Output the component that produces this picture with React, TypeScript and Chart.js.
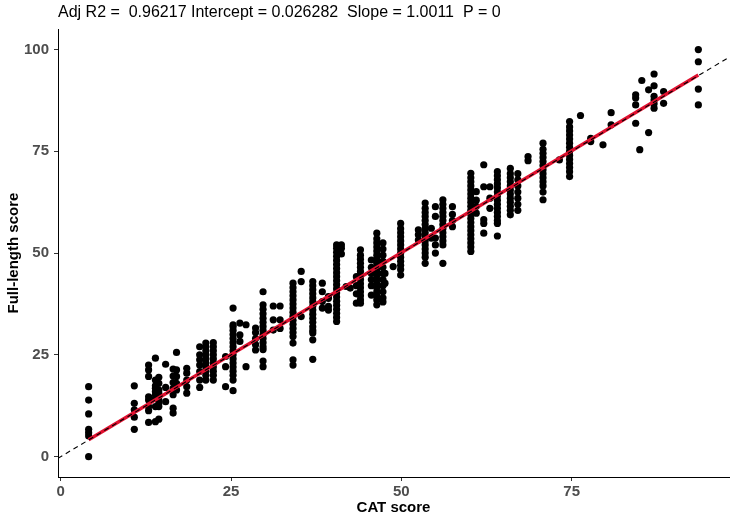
import React, { useEffect, useRef } from "react";
import { Chart, registerables } from "chart.js";

Chart.register(...registerables);

const titleText = "Adj R2 =  0.96217 Intercept = 0.026282  Slope = 1.0011  P = 0";
const intercept = 0.026282;
const slope = 1.0011;
const xTicks = [0, 25, 50, 75];
const yTicks = [0, 25, 50, 75, 100];

// CAT score columns and the full-length scores observed at each
const catScores = [
  4.1, 10.8, 12.9, 13.9, 14.4, 15.4, 16.5, 17.0, 18.5, 20.4, 21.3, 22.4, 24.2, 25.3, 26.3, 27.2,
  28.6, 29.7, 31.2, 32.2, 34.1, 35.3, 37.0, 38.4, 39.3, 40.5, 41.2, 41.9, 42.5, 43.4, 44.0, 45.6,
  46.4, 47.3, 47.6, 48.8, 49.9, 52.5, 53.5, 54.4, 55.0, 56.1, 57.5, 60.2, 61.0, 62.1, 63.0, 64.1,
  66.0, 67.1, 68.6, 70.8, 73.2, 74.7, 76.3, 77.8, 79.6, 80.8, 84.4, 85.0, 85.3, 86.3, 87.1, 88.5, 93.6,
];

const fullLengthScores: number[][] = [
  [17.2, 13.9, 10.5, 6.7, 5.9, 5.1, 0],
  [17.4, 13.1, 11.5, 9.7, 6.7],
  [22.5, 21.3, 19.7, 14.7, 13.9, 12.3, 11.3, 8.4],
  [24.2, 18.8, 17.4, 16.8, 16.0, 15.2, 14.3, 12.3, 8.6],
  [19.5, 18.0, 16.4, 15.6, 14.8, 13.9, 13.1, 12.3, 9.2],
  [22.7, 17.0, 13.5],
  [21.5, 19.8, 18.2, 16.8, 15.2, 11.9, 10.7],
  [25.6, 21.3, 19.7, 18.0, 16.4],
  [21.7, 20.5, 18.8, 17.2, 15.6],
  [27.0, 25.0, 23.8, 22.5, 20.9, 18.8, 17.0],
  [27.9, 27.0, 26.0, 25.0, 24.0, 23.0, 22.0, 21.0, 20.0, 18.8],
  [28.0, 27.0, 26.0, 25.0, 24.0, 23.0, 22.0, 21.0, 20.0, 18.8],
  [24.6, 22.1, 17.2],
  [36.5, 32.4, 31.9, 31.0, 30.0, 29.0, 28.0, 27.0, 26.0, 25.0, 24.0, 23.0, 22.0, 21.0, 20.0, 18.8, 16.2],
  [32.8, 29.9, 28.3],
  [32.4, 22.1],
  [31.6, 30.5, 29.0, 27.5, 26.2],
  [40.5, 37.3, 36.2, 35.1, 34.0, 33.0, 32.0, 31.0, 30.0, 29.0, 28.0, 27.0, 26.3, 23.5, 22.1],
  [37.0, 33.6, 31.1],
  [37.0, 33.6, 31.5],
  [42.6, 41.5, 40.5, 39.5, 38.5, 37.5, 36.5, 35.5, 34.5, 33.5, 32.5, 31.5, 30.5, 29.5, 27.9, 23.8, 22.5],
  [45.5, 43.0, 34.4],
  [43.0, 42.0, 41.0, 40.0, 39.0, 38.0, 37.0, 36.0, 35.0, 34.0, 33.0, 31.9, 31.0, 30.4, 28.7, 23.9],
  [42.6, 40.5, 38.1, 36.5],
  [39.3, 38.9, 36.9, 36.0],
  [52.0, 51.2, 50.2, 49.2, 48.2, 47.2, 46.2, 45.2, 44.2, 43.2, 42.2, 41.2, 40.2, 39.2, 38.2, 37.2, 36.2, 35.2, 34.2, 33.2],
  [52.0, 51.2, 49.8],
  [41.8],
  [41.4],
  [44.2, 42.0, 40.0, 37.7],
  [50.8, 49.5, 48.5, 47.5, 46.5, 45.5, 44.5, 43.5, 42.5, 41.5, 40.5, 39.5, 38.5, 37.7],
  [48.3, 46.5, 45.0, 43.5, 42.0, 39.7],
  [54.9, 53.5, 52.5, 51.5, 50.5, 49.5, 48.5, 47.5, 46.5, 45.5, 44.5, 43.5, 42.5, 41.5, 40.5, 39.5, 38.5, 37.3],
  [52.5, 51.0, 49.5, 48.0, 46.5, 45.0, 43.5, 42.0, 40.5, 39.0, 38.0],
  [45.0, 42.6],
  [46.7],
  [57.3, 56.0, 55.0, 54.0, 53.0, 52.0, 51.0, 50.0, 49.0, 48.0, 47.0, 46.0, 44.6],
  [55.7, 54.5, 53.2],
  [62.3, 61.0, 60.0, 59.0, 58.0, 57.0, 56.0, 55.0, 54.0, 53.0, 52.0, 51.0, 50.0, 49.0, 47.5],
  [56.1, 53.7],
  [61.4, 59.0, 53.7, 52.0, 50.0],
  [63.1, 62.0, 61.0, 60.0, 59.0, 58.0, 57.0, 56.0, 55.0, 54.0, 53.0, 52.0, 47.5],
  [61.4, 59.5, 58.0, 56.5],
  [69.6, 68.5, 67.5, 66.5, 65.5, 64.5, 63.5, 62.5, 61.5, 60.5, 59.5, 58.5, 57.5, 56.5, 55.5, 54.5, 53.5, 52.5, 51.5, 50.4],
  [65.1, 63.0, 61.5, 59.8],
  [71.7, 66.3, 58.2, 57.3, 54.9],
  [66.3, 63.5, 61.0],
  [70.0, 69.0, 68.0, 67.0, 66.0, 65.0, 64.0, 63.0, 62.0, 61.0, 60.0, 59.0, 58.0, 57.3, 54.2],
  [70.8, 69.5, 68.5, 67.5, 66.5, 65.5, 64.5, 63.5, 62.5, 61.5, 60.5, 59.4],
  [69.5, 68.0, 66.5, 65.0, 63.5, 62.0, 60.5],
  [73.7, 72.7],
  [77.0, 75.5, 74.5, 73.5, 72.5, 71.5, 70.5, 69.5, 68.5, 67.5, 66.5, 65.0, 63.1],
  [72.9],
  [82.3, 81.0, 80.0, 79.0, 78.0, 77.0, 76.0, 75.0, 74.0, 73.0, 72.0, 71.0, 70.0, 68.8],
  [83.8],
  [78.2, 77.4],
  [76.6],
  [84.5, 81.5],
  [88.9, 88.1, 86.4, 81.9],
  [75.4],
  [92.4],
  [90.1, 79.6],
  [94.0, 91.1, 88.5, 87.6, 86.7, 85.6],
  [89.7, 86.8],
  [100.0, 97.0, 90.3, 86.4],
];

const xMin = -0.4;
const xMax = 98.1;
const yMin = -5;
const yMax = 105;

export default function App() {
  const canvasRef = useRef<HTMLCanvasElement | null>(null);

  useEffect(() => {
    const canvas = canvasRef.current;
    if (!canvas) return;
    const points: { x: number; y: number }[] = [];
    catScores.forEach((cx, i) => {
      fullLengthScores[i].forEach((fy) => points.push({ x: cx, y: fy }));
    });
    const fitX0 = catScores[0];
    const fitX1 = catScores[catScores.length - 1];
    const tickFont = {
      family: "'Liberation Sans Narrow', 'Arial Narrow', 'Liberation Sans', Arial, sans-serif",
      size: 15,
      weight: "bold" as const,
    };
    const axisTitleFont = {
      family: "'Liberation Sans', Arial, sans-serif",
      size: 15,
      weight: "bold" as const,
    };
    const chart = new Chart(canvas, {
      type: "scatter",
      data: {
        datasets: [
          {
            type: "line",
            data: [
              { x: xMin, y: xMin },
              { x: xMax, y: xMax },
            ],
            borderColor: "#000000",
            borderWidth: 1.1,
            borderDash: [5, 4],
            pointRadius: 0,
            fill: false,
            order: 0,
          },
          {
            type: "line",
            data: [
              { x: fitX0, y: intercept + slope * fitX0 },
              { x: fitX1, y: intercept + slope * fitX1 },
            ],
            borderColor: "#E0102F",
            borderWidth: 3.4,
            pointRadius: 0,
            fill: false,
            order: 1,
          },
          {
            data: points,
            backgroundColor: "#000000",
            borderWidth: 0,
            pointRadius: 3.6,
            order: 2,
          },
        ],
      },
      options: {
        animation: false,
        responsive: false,
        layout: { padding: { left: 0, right: 6, top: 0, bottom: 0 } },
        plugins: {
          legend: { display: false },
          tooltip: { enabled: false },
          title: {
            display: true,
            text: titleText,
            align: "start",
            fullSize: false,
            color: "#000000",
            font: { family: "'Liberation Sans', Arial, sans-serif", size: 16, weight: "normal" },
            padding: { top: 3, bottom: 7 },
            lineHeight: 1.2,
          },
        },
        scales: {
          x: {
            type: "linear",
            min: xMin,
            max: xMax,
            afterBuildTicks: (scale: any) => {
              scale.ticks = xTicks.map((v) => ({ value: v }));
            },
            afterFit: (scale: any) => {
              scale.height = 43;
            },
            grid: {
              display: true,
              drawOnChartArea: false,
              drawTicks: true,
              tickLength: 4,
              color: "#333333",
            },
            border: { display: true, color: "#000000", width: 1 },
            ticks: { color: "#4D4D4D", font: tickFont, padding: 2, maxRotation: 0 },
            title: {
              display: true,
              text: "CAT score",
              color: "#000000",
              font: axisTitleFont,
              padding: { top: 0, bottom: 3 },
            },
          },
          y: {
            type: "linear",
            min: yMin,
            max: yMax,
            afterBuildTicks: (scale: any) => {
              scale.ticks = yTicks.map((v) => ({ value: v }));
            },
            afterFit: (scale: any) => {
              scale.width = 58;
            },
            grid: {
              display: true,
              drawOnChartArea: false,
              drawTicks: true,
              tickLength: 4,
              color: "#333333",
            },
            border: { display: true, color: "#000000", width: 1 },
            ticks: { color: "#4D4D4D", font: tickFont, padding: 5 },
            title: {
              display: true,
              text: "Full-length score",
              color: "#000000",
              font: axisTitleFont,
              padding: { top: 5, bottom: 0 },
            },
          },
        },
      },
    } as any);
    return () => chart.destroy();
  }, []);

  return (
    <div style={{ position: "absolute", left: 0, top: 0, width: 735, height: 520, background: "#ffffff" }}>
      <canvas ref={canvasRef} width={735} height={520} />
    </div>
  );
}
